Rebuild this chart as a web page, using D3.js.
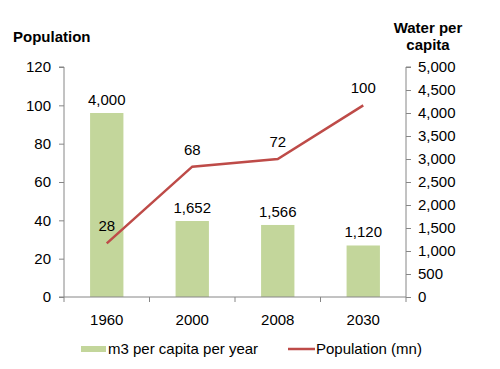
<!DOCTYPE html>
<html><head><meta charset="utf-8">
<script src="https://cdn.jsdelivr.net/npm/d3@7"></script>
<style>body{margin:0;background:#fff}text{font-family:"Liberation Sans",Arial,sans-serif}</style>
</head><body>
<svg id="c" width="500" height="369"></svg>
<script>
const categories = ["1960","2000","2008","2030"];
const waterPerCapita = [4000,1652,1566,1120];
const population = [28,68,72,100];
const leftTicks = [0,20,40,60,80,100,120];
const rightTicks = [0,500,1000,1500,2000,2500,3000,3500,4000,4500,5000];

const svg = d3.select("#c");
const FS = 15;
const x0 = 64, x1 = 406, yTop = 67, yBot = 297;
const x = d3.scaleBand().domain(categories).range([x0,x1]).paddingInner(0.61).paddingOuter(0.305);
const xc = d3.scaleBand().domain(categories).range([x0,x1]);
const yL = d3.scaleLinear().domain([0,120]).range([yBot,yTop]);
const yR = d3.scaleLinear().domain([0,5000]).range([yBot,yTop]);
const axisColor = "#868686";
const fmt = d3.format(",");

// bars
svg.selectAll("rect.bar").data(categories).enter().append("rect")
  .attr("x", d=>x(d)).attr("width", x.bandwidth())
  .attr("y", (d,i)=>yR(waterPerCapita[i])).attr("height",(d,i)=>yBot-yR(waterPerCapita[i]))
  .attr("fill","#c3d69b");

// left axis
const gl = svg.append("g").attr("transform",`translate(${x0},0)`)
  .call(d3.axisLeft(yL).tickValues(leftTicks).tickSize(5).tickPadding(8));
// right axis
const gr = svg.append("g").attr("transform",`translate(${x1},0)`)
  .call(d3.axisRight(yR).tickValues(rightTicks).tickFormat(fmt).tickSize(5).tickPadding(7));
// bottom axis
const gb = svg.append("g").attr("transform",`translate(0,${yBot})`)
  .call(d3.axisBottom(xc).tickSize(0).tickPadding(17));
gb.selectAll(".tick").append("line").attr("x1",xc.bandwidth()/2).attr("x2",xc.bandwidth()/2)
  .attr("y1",0).attr("y2",5).attr("stroke",axisColor);
[gl,gr,gb].forEach(g=>{
  g.attr("font-size",FS).attr("font-family","Liberation Sans, Arial, sans-serif");
  g.selectAll(".tick line").attr("stroke",axisColor);
  g.selectAll("text").attr("fill","#000");
});
gl.select(".domain").attr("stroke",axisColor).attr("d",`M-5,${yTop}H0V${yBot}`);
gr.select(".domain").attr("stroke",axisColor).attr("d",`M5,${yTop}H0V${yBot}`);
gb.select(".domain").attr("stroke",axisColor).attr("d",`M${x0-5},0H${x1}`);
gb.append("line").attr("x1",x0).attr("x2",x0).attr("y1",0).attr("y2",5).attr("stroke",axisColor);

// line
const line = d3.line().x((d,i)=>xc(categories[i])+xc.bandwidth()/2).y(d=>yL(d));
svg.append("path").datum(population).attr("d",line).attr("fill","none")
  .attr("stroke","#be4b48").attr("stroke-width",2.5);

// labels
svg.selectAll("text.bl").data(categories).enter().append("text")
  .attr("x",d=>xc(d)+xc.bandwidth()/2).attr("y",(d,i)=>yR(waterPerCapita[i])-8)
  .attr("text-anchor","middle").attr("font-size",FS).text((d,i)=>fmt(waterPerCapita[i]));
svg.selectAll("text.ll").data(categories).enter().append("text")
  .attr("x",d=>xc(d)+xc.bandwidth()/2).attr("y",(d,i)=>yL(population[i])-12)
  .attr("text-anchor","middle").attr("font-size",FS).text((d,i)=>population[i]);

// titles
svg.append("text").attr("x",13).attr("y",42).attr("font-size",FS).attr("font-weight","bold").text("Population");
svg.append("text").attr("x",428).attr("y",33).attr("text-anchor","middle").attr("font-size",FS).attr("font-weight","bold").text("Water per");
svg.append("text").attr("x",428).attr("y",50).attr("text-anchor","middle").attr("font-size",FS).attr("font-weight","bold").text("capita");

// legend
svg.append("rect").attr("x",81).attr("y",346).attr("width",25).attr("height",6).attr("fill","#c3d69b");
svg.append("text").attr("x",108).attr("y",354).attr("font-size",FS).text("m3 per capita per year");
svg.append("line").attr("x1",288).attr("x2",315).attr("y1",349).attr("y2",349).attr("stroke","#be4b48").attr("stroke-width",2.5);
svg.append("text").attr("x",316).attr("y",354).attr("font-size",FS).text("Population (mn)");
</script>
</body></html>
